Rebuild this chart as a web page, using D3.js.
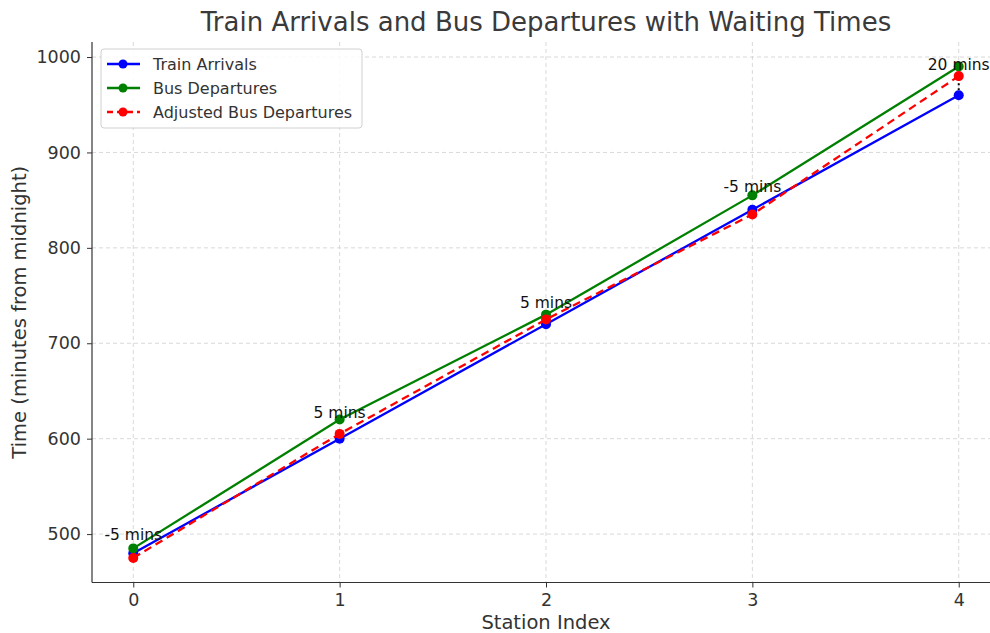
<!DOCTYPE html>
<html>
<head>
<meta charset="utf-8">
<script src="https://cdn.jsdelivr.net/npm/d3@7"></script>
<style>
  body { margin: 0; background: #fff; }
  svg { display: block; font-family: "DejaVu Sans", sans-serif; }
</style>
</head>
<body>
<svg id="chart" width="990" height="633"></svg>
<script>
const stations = [0, 1, 2, 3, 4];
const trainArrivals = [480, 600, 720, 840, 960];
const busDepartures = [485, 620, 730, 855, 990];
const adjustedBus = [475, 605, 725, 835, 980];
const waitLabels = ['-5 mins', '5 mins', '5 mins', '-5 mins', '20 mins'];
const yTicks = [500, 600, 700, 800, 900, 1000];

const svg = d3.select('#chart');
const textColor = '#333';

const x = d3.scaleLinear().domain([-0.2, 4.2]).range([92, 1000]);
const y = d3.scaleLinear().domain([449.25, 1015.75]).range([582.5, 42]);
const plotTop = 42, plotBottom = 582.5, plotLeft = 92, plotRight = 990;

// grid
const grid = svg.append('g');
grid.selectAll('line.gx').data(stations).join('line')
    .attr('x1', d => x(d)).attr('x2', d => x(d))
    .attr('y1', plotTop).attr('y2', plotBottom)
    .attr('stroke', '#cfcfcf').attr('stroke-width', 0.8).attr('stroke-dasharray', '4,3');
grid.selectAll('line.gy').data(yTicks).join('line')
    .attr('x1', plotLeft).attr('x2', plotRight)
    .attr('y1', d => y(d)).attr('y2', d => y(d))
    .attr('stroke', '#cfcfcf').attr('stroke-width', 0.8).attr('stroke-dasharray', '4,3');

// axes
const xAxis = svg.append('g')
    .attr('transform', `translate(0,${plotBottom})`)
    .call(d3.axisBottom(x).tickValues(stations).tickSize(5).tickPadding(6).tickFormat(d3.format('d')));
const yAxis = svg.append('g')
    .attr('transform', `translate(${plotLeft},0)`)
    .call(d3.axisLeft(y).tickValues(yTicks).tickSize(5).tickPadding(6).tickFormat(d3.format('d')));
[xAxis, yAxis].forEach(a => {
    a.selectAll('.tick line').attr('stroke', '#333');
    a.selectAll('.tick text').attr('fill', textColor).style('font-size', '17.5px')
        .style('font-family', '"DejaVu Sans", sans-serif');
});
xAxis.select('.domain').attr('stroke', '#333').attr('stroke-width', 1.2)
    .attr('d', `M${plotLeft},0H${plotRight}`);
yAxis.select('.domain').remove();
svg.append('line')
    .attr('x1', plotLeft).attr('x2', plotLeft).attr('y1', plotTop).attr('y2', plotBottom)
    .attr('stroke', '#333').attr('stroke-width', 1.2);

// waiting time connectors
svg.selectAll('line.wait').data(stations).join('line')
    .attr('x1', d => x(d)).attr('x2', d => x(d))
    .attr('y1', (d, i) => y(trainArrivals[i])).attr('y2', (d, i) => y(adjustedBus[i]))
    .attr('stroke', '#000').attr('stroke-width', 2).attr('stroke-dasharray', '2,3');

const series = [
    { name: 'Train Arrivals', values: trainArrivals, color: '#0000ff', dash: null },
    { name: 'Bus Departures', values: busDepartures, color: '#008000', dash: null },
    { name: 'Adjusted Bus Departures', values: adjustedBus, color: '#ff0000', dash: '8,5' }
];

const line = d3.line().x((d, i) => x(stations[i])).y(d => y(d));
series.forEach(s => {
    svg.append('path')
        .attr('d', line(s.values))
        .attr('fill', 'none').attr('stroke', s.color).attr('stroke-width', 2.3)
        .attr('stroke-dasharray', s.dash);
    svg.selectAll(null).data(s.values).join('circle')
        .attr('cx', (d, i) => x(stations[i])).attr('cy', d => y(d))
        .attr('r', 5).attr('fill', s.color);
});

// waiting labels
svg.selectAll('text.wl').data(waitLabels).join('text')
    .attr('x', (d, i) => x(stations[i]))
    .attr('y', (d, i) => y((trainArrivals[i] + busDepartures[i]) / 2) - 16)
    .attr('text-anchor', 'middle').attr('dominant-baseline', 'central')
    .style('font-size', '15.5px').attr('fill', '#111')
    .text(d => d);

// titles
svg.append('text')
    .attr('x', 546).attr('y', 31).attr('text-anchor', 'middle')
    .style('font-size', '26px').attr('fill', '#3a3a3a')
    .text('Train Arrivals and Bus Departures with Waiting Times');
svg.append('text')
    .attr('x', 546).attr('y', 629).attr('text-anchor', 'middle')
    .style('font-size', '19.5px').attr('fill', textColor)
    .text('Station Index');
svg.append('text')
    .attr('transform', `translate(26,${(plotTop + plotBottom) / 2}) rotate(-90)`)
    .attr('text-anchor', 'middle')
    .style('font-size', '19.5px').attr('fill', textColor)
    .text('Time (minutes from midnight)');

// legend
const legend = svg.append('g').attr('transform', 'translate(101,49)');
legend.append('rect')
    .attr('width', 261).attr('height', 79).attr('rx', 3)
    .attr('fill', '#fff').attr('fill-opacity', 0.85)
    .attr('stroke', '#d0d0d0');
series.forEach((s, i) => {
    const ly = 15 + i * 24;
    legend.append('line')
        .attr('x1', 6).attr('x2', 39).attr('y1', ly).attr('y2', ly)
        .attr('stroke', s.color).attr('stroke-width', 2.3)
        .attr('stroke-dasharray', s.dash ? '6,4' : null);
    legend.append('circle').attr('cx', 22).attr('cy', ly).attr('r', 4.5).attr('fill', s.color);
    legend.append('text')
        .attr('x', 52).attr('y', ly).attr('dominant-baseline', 'central')
        .style('font-size', '16px').attr('fill', textColor)
        .text(s.name);
});
</script>
</body>
</html>
